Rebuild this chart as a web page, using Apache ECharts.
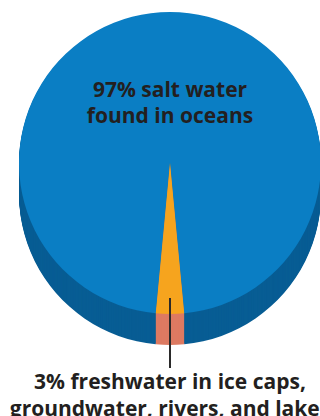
<!DOCTYPE html>
<html>
<head>
<meta charset="utf-8">
<script src="https://cdn.jsdelivr.net/npm/echarts@6/dist/echarts.min.js"></script>
<style>
html,body{margin:0;padding:0;background:#fff;}
#chart{width:320px;height:416px;}
</style>
</head>
<body>
<div id="chart"></div>
<script>
const categories = ['Salt water found in oceans', 'Freshwater in ice caps, groundwater, rivers, and lakes'];
const shares = [97, 3];
const topLabel = '97% salt water\nfound in oceans';
const bottomLabel = '3% freshwater in ice caps,\ngroundwater, rivers, and lakes';
const topColors = ['#0a7ec4', '#f6a41e'];
const sideColors = ['#085d94', '#dd7a62'];

const total = shares.reduce((a, b) => a + b, 0);
const startAngle = 270 - (360 * shares[1] / total) / 2;
const cx = 170, cy = 163, r = 151, depth = 31;
const FONT = '"Open Sans"';

function pieLayer(offset, colors, z) {
  return {
    type: 'pie',
    silent: true,
    animation: false,
    center: [cx, cy + offset],
    radius: [0, r],
    startAngle: startAngle,
    z: z,
    label: { show: false },
    labelLine: { show: false },
    emphasis: { disabled: true },
    itemStyle: { borderWidth: 0 },
    data: categories.map((name, i) => ({ name: name, value: shares[i], itemStyle: { color: colors[i] } }))
  };
}

const series = [];
for (let d = depth; d >= 1; d--) series.push(pieLayer(d, sideColors, 1));
series.push(pieLayer(0, topColors, 2));

const chart = echarts.init(document.getElementById('chart'), null, { renderer: 'svg' });
chart.setOption({
  animation: false,
  backgroundColor: '#ffffff',
  title: [
    {
      text: topLabel,
      left: cx, top: 76, textAlign: 'center', padding: 0,
      textStyle: { fontFamily: FONT, fontWeight: 'bold', fontSize: 21, lineHeight: 26, color: '#231f20' }
    },
    {
      text: bottomLabel,
      left: cx, top: 367, textAlign: 'center', padding: 0,
      textStyle: { fontFamily: FONT, fontWeight: 'bold', fontSize: 21, lineHeight: 27, color: '#231f20' }
    }
  ],
  graphic: [
    {
      type: 'line', z: 100,
      shape: { x1: cx, y1: 298, x2: cx, y2: 368 },
      style: { stroke: '#2a2a2a', lineWidth: 2 }
    }
  ],
  series: series
});
</script>
</body>
</html>
